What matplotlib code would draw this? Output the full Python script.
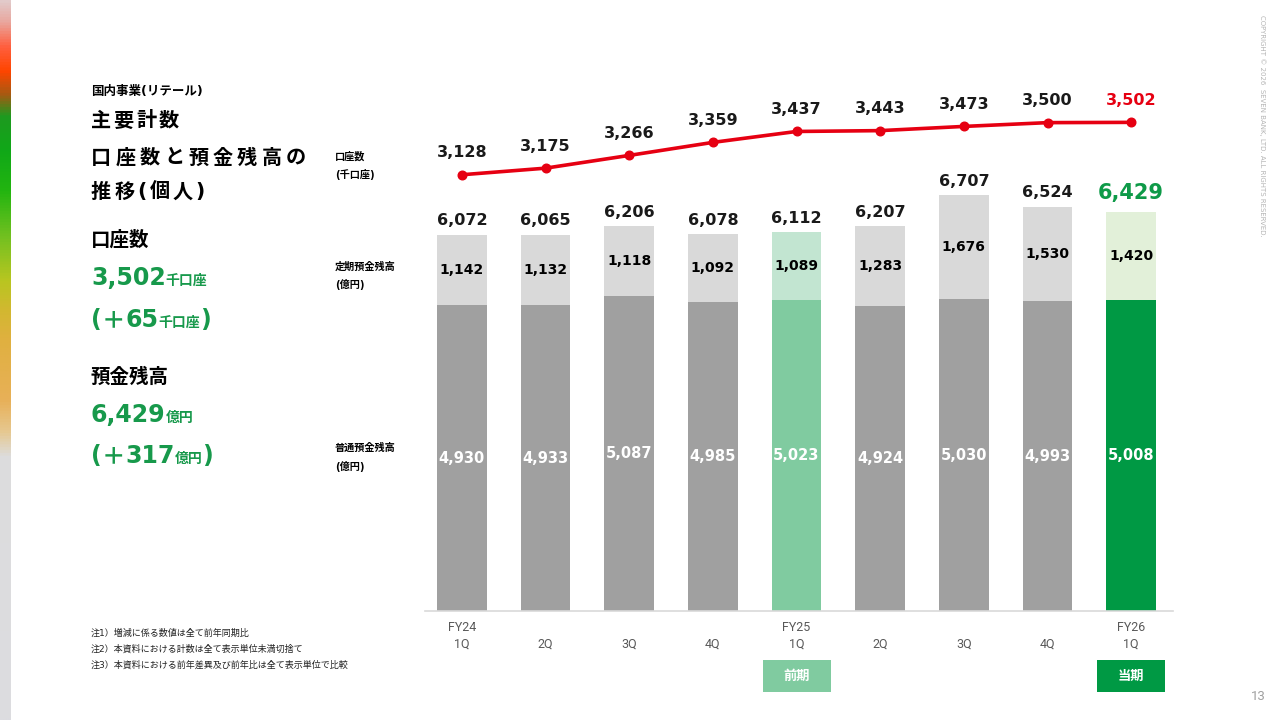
import matplotlib
matplotlib.use('Agg')
import matplotlib.pyplot as plt
import numpy as np
from matplotlib.colors import LinearSegmentedColormap
from matplotlib.patches import Rectangle

# ---------------- data ----------------
fy_labels = ['FY24', '', '', '', 'FY25', '', '', '', 'FY26']
quarter_labels = ['1Q', '2Q', '3Q', '4Q', '1Q', '2Q', '3Q', '4Q', '1Q']
ordinary_deposits = [4930, 4933, 5087, 4985, 5023, 4924, 5030, 4993, 5008]
time_deposits = [1142, 1132, 1118, 1092, 1089, 1283, 1676, 1530, 1420]
total_deposits = [6072, 6065, 6206, 6078, 6112, 6207, 6707, 6524, 6429]
accounts = [3128, 3175, 3266, 3359, 3437, 3443, 3473, 3500, 3502]

W, H = 1280, 720
fig = plt.figure(figsize=(12.8, 7.2), dpi=100)
fig.patch.set_facecolor('white')
renderer = fig.canvas.get_renderer()

JP = ['DejaVu Sans', 'Noto Sans CJK JP']
GREEN = '#17994B'
RED = '#E60012'


def fx(x):
    return x / W


def fy(y):
    return 1 - y / H


# ---------------- left gradient strip ----------------
stops = [
    (0.0, '#E2CACA'), (0.028, '#E9A8A0'), (0.0625, '#FF6040'), (0.097, '#FF4500'),
    (0.13, '#A65A12'), (0.16, '#1E9A20'), (0.208, '#10A818'), (0.264, '#22B510'),
    (0.326, '#70C020'), (0.389, '#B8C620'), (0.43, '#D2B830'), (0.472, '#E0B040'),
    (0.556, '#E8B058'), (0.60, '#E6C890'), (0.635, '#DDDDDD'), (1.0, '#DCDCE0'),
]
cmap = LinearSegmentedColormap.from_list('strip', stops)
gax = fig.add_axes([0, 0, 11 / W, 1])
gax.imshow(np.linspace(0, 1, 512).reshape(-1, 1), aspect='auto', cmap=cmap,
           extent=[0, 1, 1, 0])
gax.axis('off')

# ---------------- main chart ----------------
ax = fig.add_axes([fx(420), fy(611), (1173 - 420) / W, (611 - 90) / H])
x = np.arange(len(quarter_labels))
lower_colors = ['#A0A0A0'] * 9
upper_colors = ['#D9D9D9'] * 9
lower_colors[4], upper_colors[4] = '#80CBA0', '#C2E5D1'
lower_colors[8], upper_colors[8] = '#009944', '#E2F0D9'

bw = 0.59
ax.bar(x, ordinary_deposits, width=bw, color=lower_colors, zorder=2)
ax.bar(x, time_deposits, bottom=ordinary_deposits, width=bw, color=upper_colors, zorder=2)
ax.set_xlim(-0.5, 8.5)
ax.set_ylim(0, 8403)

for i in range(len(x)):
    o, t, tot = ordinary_deposits[i], time_deposits[i], total_deposits[i]
    ax.text(i, o / 2, f'{o:,}', ha='center', va='center', color='white',
            fontsize=10.5, fontweight='bold', family='DejaVu Sans', zorder=3)
    ax.text(i, o + t / 2, f'{t:,}', ha='center', va='center', color='black',
            fontsize=10, fontweight='bold', family='DejaVu Sans', zorder=3)
    if i == 8:
        ax.annotate(f'{tot:,}', (i, o + t), xytext=(0, 19), textcoords='offset pixels',
                    ha='center', va='center', color='#0E9A48', fontsize=15,
                    fontweight='bold', family='DejaVu Sans')
    else:
        ax.annotate(f'{tot:,}', (i, o + t), xytext=(0, 14), textcoords='offset pixels',
                    ha='center', va='center', color='#1A1A1A', fontsize=11.5,
                    fontweight='bold', family='DejaVu Sans')

ax2 = ax.twinx()
ax2.set_ylim(14, 3733)
ax2.plot(x, accounts, color=RED, lw=2.6, marker='o', markersize=6.2, zorder=4)
for i, v in enumerate(accounts):
    ax2.annotate(f'{v:,}', (i, v), xytext=(0, 22), textcoords='offset pixels',
                 ha='center', va='center', fontsize=11.5, fontweight='bold',
                 family='DejaVu Sans', color=RED if i == 8 else '#1A1A1A')
ax2.axis('off')

ax.set_xticks(x)
ax.set_xticklabels([f'{a}\n{b}' if a else f'\n{b}' for a, b in zip(fy_labels, quarter_labels)],
                   color='#595959', fontsize=9, family='Roboto', linespacing=1.35)
ax.tick_params(axis='x', length=0, pad=7)
ax.set_yticks([])
ax.tick_params(axis='y', left=False, right=False, labelleft=False, labelright=False)
for s in ['top', 'left', 'right']:
    ax.spines[s].set_visible(False)
ax.spines['bottom'].set_color('#D9D9D9')
ax.spines['bottom'].set_linewidth(1.2)
ax.spines['bottom'].set_bounds(-0.44, 8.5)
ax.patch.set_alpha(0)

# ---------------- helpers for text ----------------

def spaced(x0, y, s, size, spacing, color='black'):
    xx = x0
    for ch in s:
        t = fig.text(fx(xx), fy(y), ch, fontsize=size, va='center', ha='left',
                     family=JP, fontweight='bold', color=color)
        xx += t.get_window_extent(renderer).width + spacing


def run(x0, y, parts, color=GREEN):
    xx = x0
    for s, size in parts:
        t = fig.text(fx(xx), fy(y), s, fontsize=size, va='baseline', ha='left',
                     family=JP, fontweight='bold', color=color)
        xx += t.get_window_extent(renderer).width


# ---------------- left panel ----------------
fig.text(fx(91), fy(91), '国内事業(リテール)', fontsize=9, fontweight='bold',
         family=JP, va='center', ha='left')
spaced(91, 121, '主要計数', 14.5, 2.5)
spaced(91, 158, '口座数と預金残高の', 14.5, 4.2)
spaced(91, 192, '推移(個人)', 14.5, 3.0)

fig.text(fx(91), fy(240), '口座数', fontsize=14, fontweight='bold', family=JP,
         va='center', ha='left')
run(91, 285, [('3,502', 17), ('千口座', 10)])
run(91, 327, [('(', 17), ('＋', 17), ('65', 17), ('千口座', 10), (')', 17)])

fig.text(fx(91), fy(377), '預金残高', fontsize=14, fontweight='bold', family=JP,
         va='center', ha='left')
run(91, 422, [('6,429', 17), ('億円', 10)])
run(91, 463, [('(', 17), ('＋', 17), ('317', 17), ('億円', 10), (')', 17)])

# series labels
for txt, yy in [('口座数', 157), ('(千口座)', 175), ('定期預金残高', 267), ('(億円)', 285),
                ('普通預金残高', 448), ('(億円)', 467)]:
    fig.text(fx(335), fy(yy), txt, fontsize=7.3, fontweight='bold', family=JP,
             va='center', ha='left')

# footnotes
notes = ['注1）増減に係る数値は全て前年同期比',
         '注2）本資料における計数は全て表示単位未満切捨て',
         '注3）本資料における前年差異及び前年比は全て表示単位で比較']
for k, n in enumerate(notes):
    fig.text(fx(91), fy(633 + 16 * k), n, fontsize=6.5, family=JP, va='center',
             ha='left', color='#222222')

# period boxes
for cx, label, col in [(797, '前期', '#80CBA0'), (1131, '当期', '#009944')]:
    fig.patches.append(Rectangle((fx(cx - 34), fy(692)), 68 / W, 32 / H,
                                 transform=fig.transFigure, facecolor=col,
                                 edgecolor='none'))
    fig.text(fx(cx), fy(676), label, fontsize=9.5, fontweight='bold', family=JP,
             color='white', ha='center', va='center')

# copyright and page number
fig.text(fx(1262), fy(15), 'COPYRIGHT © 2026  SEVEN BANK, LTD. ALL RIGHTS RESERVED.',
         rotation=270, ha='center', va='top', fontsize=5, color='#B5B5B5')
fig.text(fx(1258), fy(697), '13', fontsize=9.5, color='#A0A0A0', ha='center',
         va='center', family='Roboto')

fig.savefig('out.png', dpi=100)
